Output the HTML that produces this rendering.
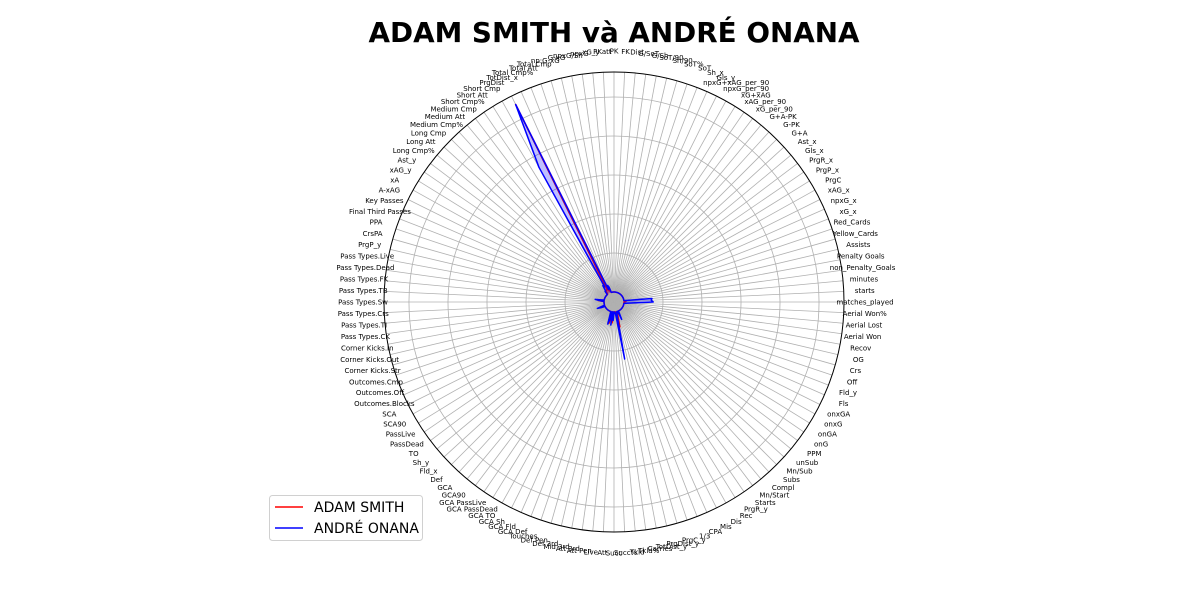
<!DOCTYPE html>
<html><head><meta charset="utf-8">
<style>
html,body{margin:0;padding:0;background:#fff;}
svg{display:block;font-family:"DejaVu Sans","Liberation Sans",sans-serif;}
</style></head>
<body>
<svg id="chart" width="1200" height="600" viewBox="0 0 1200 600">
<defs>
<mask id="holeMask"><rect x="0" y="0" width="1200" height="600" fill="#fff"/><circle cx="614" cy="302" r="10" fill="#000"/></mask>
</defs>
<text x="614" y="42" text-anchor="middle" font-size="27.8" font-weight="bold" fill="#000">ADAM SMITH và ANDRÉ ONANA</text>
<g id="grid"></g>
<g id="labels"></g>
<g id="series"></g>
<g>
<rect x="269.5" y="495.5" width="153" height="45" rx="3" fill="#fff" stroke="#d0d0d0"/>
<g><line x1="275" y1="507" x2="303" y2="507" stroke="red" stroke-width="1.5"/><text x="314" y="512" font-size="14" fill="#000">ADAM SMITH</text></g>
<g><line x1="275" y1="528" x2="303" y2="528" stroke="blue" stroke-width="1.5"/><text x="314" y="533" font-size="14" fill="#000">ANDRÉ ONANA</text></g>
</g>
</svg>
<script>
const categories = ["matches_played","starts","minutes","non_Penalty_Goals","Penalty Goals","Assists","Yellow_Cards","Red_Cards","xG_x","npxG_x","xAG_x","PrgC","PrgP_x","PrgR_x","Gls_x","Ast_x","G+A","G-PK","G+A-PK","xG_per_90","xAG_per_90","xG+xAG","npxG_per_90","npxG+xAG_per_90","Gls_y","Sh_x","SoT","SoT%","Sh/90","SoT/90","G/Sh","G/SoT","Dist","FK","PK","PKatt","xG_y","npxG","npxG/Sh","G-xG","np:G-xG","Total Cmp","Total Att","Total Cmp%","TotDist_x","PrgDist","Short Cmp","Short Att","Short Cmp%","Medium Cmp","Medium Att","Medium Cmp%","Long Cmp","Long Att","Long Cmp%","Ast_y","xAG_y","xA","A-xAG","Key Passes","Final Third Passes","PPA","CrsPA","PrgP_y","Pass Types.Live","Pass Types.Dead","Pass Types.FK","Pass Types.TB","Pass Types.Sw","Pass Types.Crs","Pass Types.TI","Pass Types.CK","Corner Kicks.In","Corner Kicks.Out","Corner Kicks.Str","Outcomes.Cmp","Outcomes.Off","Outcomes.Blocks","SCA","SCA90","PassLive","PassDead","TO","Sh_y","Fld_x","Def","GCA","GCA90","GCA PassLive","GCA PassDead","GCA TO","GCA Sh","GCA Fld","GCA Def","Touches","Def Pen","Def 3rd","Mid 3rd","Att 3rd","Att Pen","Live","Att","Succ","Succ%","Tkld","Tkld%","Carries","TotDist_y","PrgDist_y","PrgC_y","1/3","CPA","Mis","Dis","Rec","PrgR_y","Starts","Mn/Start","Compl","Subs","Mn/Sub","unSub","PPM","onG","onGA","onxG","onxGA","Fls","Fld_y","Off","Crs","OG","Recov","Aerial Won","Aerial Lost","Aerial Won%"];
const smithValues = [0,0.05,0.05,0,0,0,0,0,0,0,0,0,0,0,0,0,0,0,0,0,0,0,0,0,0,0,0,0,0,0,0,0,0,0,0,0,0,0,0,0,0,0.1,0.1,0.05,5.4,0.1,0.1,0.1,0.05,0,0,0,0,0,0,0,0,0,0,0,0,0,0,0,0,0.1,0.15,0,0,0,0,0,0,0,0,0,0.1,0,0,0,0,0,0,0,0,0,0,0,0,0,0,0,0,0,0,0,0.1,0.3,0.1,0,0.28,0,0,0,0,0,0.1,0.4,0.1,0,0,0,0,0,0,0,0,0,0,0,0,0,0,0,0,0,0,0,0,0,0,0,0,0,0,0];
const onanaValues = [0.75,0.7,0.72,0,0,0,0,0,0,0,0,0,0,0,0,0,0,0,0,0,0,0,0,0,0,0,0,0,0,0,0,0,0,0,0,0,0,0,0,0,0,0.15,0.2,0.1,5.4,3.7,0.2,0.25,0.1,0.1,0,0,0,0,0,0,0,0,0,0,0,0,0,0,0,0.23,0.1,0,0,0,0,0,0,0,0,0,0.2,0.1,0,0,0,0,0,0,0,0,0,0,0,0,0,0,0,0,0,0,0.33,0.2,0,0.34,0,0.22,0,0,0,0.1,1.23,0.1,0,0,0,0.23,0,0,0,0,0,0,0,0,0,0,0,0,0,0,0,0,0,0,0,0,0,0];
const radialTicks = [1,2,3,4,5];
const rMax = 5.64;

const NS = "http://www.w3.org/2000/svg";
const cx = 614, cy = 302, r0 = 10, R = 230;
function rScale(v){ return r0 + v / rMax * (R - r0); }
function angle(i){ return i / categories.length * 2 * Math.PI; }
function pt(i, v){ const a = angle(i), r = rScale(v); return [cx + r*Math.cos(a), cy - r*Math.sin(a)]; }
function mk(tag, attrs, parent){ const e = document.createElementNS(NS, tag); for (const k in attrs) e.setAttribute(k, attrs[k]); parent.appendChild(e); return e; }

const grid = document.getElementById('grid');
categories.forEach((c, i) => {
  const a = angle(i);
  const l = mk('line', {x1: cx, y1: cy, x2: cx + R*Math.cos(a), y2: cy - R*Math.sin(a), stroke: '#b0b0b0', 'stroke-width': 0.8}, grid);
  
  
});
radialTicks.forEach(t => {
  const c = mk('circle', {cx: cx, cy: cy, r: rScale(t), fill: 'none', stroke: '#b0b0b0', 'stroke-width': 0.8}, grid);
  
  
});
const outer = mk('circle', {cx: cx, cy: cy, r: R, fill: 'none', stroke: '#000', 'stroke-width': 1}, grid);



const labels = document.getElementById('labels');
categories.forEach((c, i) => {
  const a = angle(i), rl = 251;
  const t = mk('text', {x: cx + rl*Math.cos(a), y: cy - rl*Math.sin(a) + 2.5, 'text-anchor': 'middle', 'font-size': 7, fill: '#000'}, labels);
  t.textContent = c;
  
  
});

const series = document.getElementById('series');
function drawSeries(vals, color, name){
  const pts = vals.map((v, i) => pt(i, v).map(n => n.toFixed(2)).join(',')).join(' ');
  const f = mk('polygon', {points: pts, fill: color, 'fill-opacity': 0.25, stroke: 'none', mask: 'url(#holeMask)'}, series);
  
  
  const p = mk('polygon', {points: pts, fill: 'none', stroke: color, 'stroke-width': 1.5, 'stroke-linejoin': 'round'}, series);
  
  
}
drawSeries(smithValues, 'red', 'adam-smith');
drawSeries(onanaValues, 'blue', 'andre-onana');
</script>
</body></html>
